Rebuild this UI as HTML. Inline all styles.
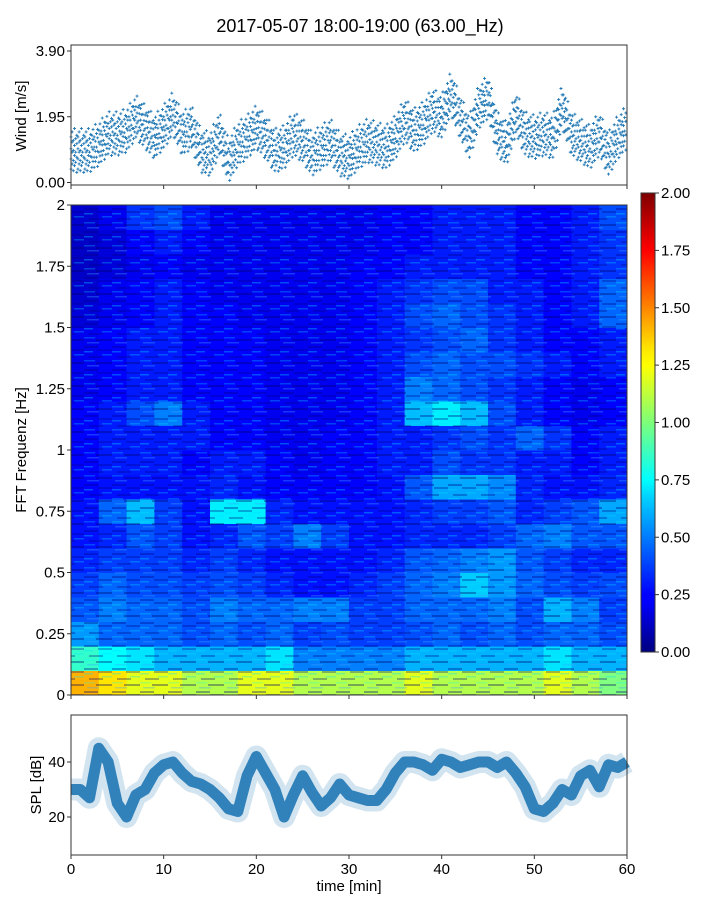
<!DOCTYPE html>
<html><head><meta charset="utf-8"><style>
body{margin:0;background:#fff;}
svg{display:block;font-family:"Liberation Sans",sans-serif;}
</style></head><body>
<svg id="fig" width="720" height="900" viewBox="0 0 720 900">
<defs>
<linearGradient id="jet" x1="0" y1="1" x2="0" y2="0">
<stop offset="0" stop-color="#00007f"/><stop offset="0.11" stop-color="#0000ff"/><stop offset="0.125" stop-color="#0000ff"/>
<stop offset="0.34" stop-color="#00d4ff"/><stop offset="0.375" stop-color="#00ffff"/><stop offset="0.5" stop-color="#7dff7a"/>
<stop offset="0.625" stop-color="#ffff00"/><stop offset="0.66" stop-color="#ffe600"/><stop offset="0.875" stop-color="#ff0000"/><stop offset="1" stop-color="#7f0000"/>
</linearGradient>
<pattern id="stripes" width="28" height="23" patternUnits="userSpaceOnUse">
<rect x="0" y="1" width="14" height="2" fill="#000080" opacity="0.35"/>
<rect x="14" y="4" width="14" height="2" fill="#000080" opacity="0.3"/>
<rect x="0" y="6" width="9" height="1.5" fill="#00e0ff" opacity="0.35"/>
<rect x="18" y="9" width="10" height="1.5" fill="#00e0ff" opacity="0.3"/>
<rect x="5" y="11" width="14" height="2" fill="#000080" opacity="0.3"/>
<rect x="0" y="15" width="11" height="1.5" fill="#00ffff" opacity="0.25"/>
<rect x="12" y="17" width="16" height="2" fill="#000060" opacity="0.35"/>
<rect x="3" y="20" width="12" height="1.5" fill="#40a0ff" opacity="0.35"/>
</pattern>
</defs>
<text x="360" y="32" text-anchor="middle" font-size="18">2017-05-07 18:00-19:00 (63.00_Hz)</text>
<g id="wind"></g>
<g id="spec"></g>
<g id="cbar"></g>
<g id="spl"></g>
</svg>
<script>
const NS="http://www.w3.org/2000/svg";
const minutes=[0,1,2,3,4,5,6,7,8,9,10,11,12,13,14,15,16,17,18,19,20,21,22,23,24,25,26,27,28,29,30,31,32,33,34,35,36,37,38,39,40,41,42,43,44,45,46,47,48,49,50,51,52,53,54,55,56,57,58,59,60];
const windValues=[0.9,0.9,0.9,1.1,1.4,1.4,1.5,1.9,1.6,1.3,1.6,2.0,1.4,1.6,0.9,0.8,1.4,0.6,1.1,1.3,1.6,1.3,0.9,1.0,1.4,1.2,0.8,1.0,1.2,0.8,0.7,1.0,1.2,1.1,1.0,1.3,1.8,1.5,1.7,2.1,1.9,2.6,1.9,1.3,2.2,2.5,1.4,1.1,2.0,1.4,1.3,1.4,1.3,2.2,1.4,1.2,1.0,1.4,0.8,1.3,1.6];
const splValues=[30,30,27,45,40,25,20,28,30,36,39,40,36,33,32,30,27,23,22,35,42,36,30,20,28,35,29,24,27,32,28,27,26,26,30,36,40,40,39,37,41,40,38,39,40,40,38,40,36,31,23,22,25,30,28,35,37,31,39,38,40];
const windTicks=[0,1.95,3.9];
const windTickLabels=["0.00","1.95","3.90"];
const freqTicks=[0,0.25,0.5,0.75,1,1.25,1.5,1.75,2];
const freqTickLabels=["0","0.25","0.5","0.75","1","1.25","1.5","1.75","2"];
const cbarTicks=[0,0.25,0.5,0.75,1,1.25,1.5,1.75,2];
const cbarTickLabels=["0.00","0.25","0.50","0.75","1.00","1.25","1.50","1.75","2.00"];
const splTicks=[20,40];
const timeTicks=[0,10,20,30,40,50,60];
// spectrogram rows: bottom (0-0.1 Hz) first, 20 time bins of 3 min
const specRows=[
[1.4,1.3,1.2,1.2,1.1,1.1,1.2,1.2,1.1,1.1,1.1,1.1,1.2,1.1,1.1,1.1,1.1,1.2,1.1,1.0],
[0.85,0.75,0.7,0.6,0.6,0.6,0.6,0.7,0.5,0.5,0.5,0.5,0.6,0.6,0.6,0.6,0.6,0.7,0.6,0.6],
[0.55,0.45,0.45,0.45,0.4,0.45,0.4,0.45,0.37,0.4,0.37,0.37,0.4,0.45,0.4,0.45,0.4,0.45,0.45,0.4],
[0.42,0.5,0.45,0.45,0.4,0.5,0.45,0.45,0.5,0.5,0.37,0.37,0.45,0.45,0.45,0.5,0.4,0.6,0.5,0.37],
[0.37,0.45,0.4,0.4,0.37,0.4,0.37,0.32,0.28,0.28,0.32,0.37,0.45,0.5,0.65,0.55,0.45,0.4,0.37,0.4],
[0.32,0.37,0.37,0.37,0.32,0.37,0.32,0.28,0.28,0.28,0.28,0.32,0.42,0.45,0.5,0.55,0.42,0.37,0.32,0.32],
[0.28,0.32,0.42,0.37,0.28,0.32,0.42,0.37,0.5,0.37,0.28,0.28,0.32,0.32,0.32,0.37,0.45,0.5,0.42,0.42],
[0.28,0.45,0.62,0.37,0.28,0.72,0.72,0.32,0.28,0.28,0.28,0.28,0.32,0.37,0.37,0.42,0.32,0.37,0.42,0.58],
[0.25,0.28,0.28,0.28,0.28,0.32,0.28,0.25,0.25,0.25,0.25,0.28,0.42,0.58,0.58,0.52,0.32,0.28,0.28,0.32],
[0.25,0.3,0.3,0.3,0.25,0.3,0.3,0.25,0.22,0.25,0.25,0.3,0.3,0.4,0.35,0.35,0.3,0.3,0.25,0.3],
[0.25,0.3,0.3,0.3,0.3,0.25,0.25,0.22,0.22,0.25,0.25,0.3,0.3,0.35,0.4,0.35,0.45,0.35,0.25,0.3],
[0.25,0.3,0.4,0.5,0.3,0.25,0.25,0.22,0.22,0.22,0.25,0.3,0.62,0.72,0.62,0.4,0.3,0.25,0.22,0.25],
[0.22,0.25,0.3,0.3,0.25,0.25,0.25,0.22,0.22,0.22,0.25,0.3,0.5,0.45,0.4,0.35,0.3,0.25,0.22,0.25],
[0.22,0.25,0.3,0.3,0.25,0.25,0.25,0.22,0.22,0.22,0.25,0.3,0.4,0.45,0.4,0.4,0.35,0.3,0.25,0.3],
[0.22,0.25,0.3,0.3,0.25,0.25,0.25,0.22,0.22,0.22,0.25,0.3,0.35,0.4,0.45,0.35,0.3,0.25,0.25,0.3],
[0.18,0.22,0.25,0.3,0.25,0.25,0.22,0.22,0.22,0.22,0.25,0.3,0.4,0.45,0.4,0.35,0.3,0.25,0.3,0.45],
[0.16,0.22,0.25,0.3,0.25,0.22,0.22,0.22,0.22,0.22,0.25,0.3,0.35,0.4,0.4,0.3,0.3,0.25,0.3,0.45],
[0.14,0.18,0.22,0.25,0.22,0.22,0.22,0.22,0.22,0.22,0.25,0.25,0.3,0.3,0.3,0.3,0.25,0.25,0.3,0.35],
[0.14,0.18,0.25,0.3,0.25,0.22,0.22,0.22,0.22,0.22,0.22,0.25,0.25,0.3,0.3,0.3,0.25,0.25,0.3,0.35],
[0.16,0.22,0.35,0.4,0.3,0.22,0.22,0.22,0.22,0.22,0.22,0.25,0.25,0.3,0.3,0.3,0.25,0.25,0.3,0.4]];

const X0=71,X1=627;
const xT=t=>X0+(t/60)*(X1-X0);
const yWind=v=>182.5-v*(131.5/3.9);
const yFreq=f=>695-f*245;
const yC=v=>652-v*229.5;
const ySpl=v=>817-(v-20)*2.75;

function mk(parent,tag,attrs,text){const e=document.createElementNS(NS,tag);for(const k in attrs)e.setAttribute(k,attrs[k]);if(text!==undefined)e.textContent=text;parent.appendChild(e);return e;}
function jet(v){let x=Math.max(0,Math.min(1,v/2));
 const r=Math.max(0,Math.min(1,1.5-Math.abs(4*x-3))),g=Math.max(0,Math.min(1,1.5-Math.abs(4*x-2))),b=Math.max(0,Math.min(1,1.5-Math.abs(4*x-1)));
 return `rgb(${Math.round(r*255)},${Math.round(g*255)},${Math.round(b*255)})`;}

// ---- wind panel
const W=document.getElementById('wind');
const offs=[[-0.5,-0.2,0.1,0.45],[-0.35,0,0.3,0.6],[-0.55,-0.25,0.05,0.35],[-0.4,-0.1,0.2,0.7],[-0.3,0.0,0.4],[-0.6,-0.15,0.25,0.5]];
for(let i=0;i<minutes.length-1;i++){
 for(let j=0;j<8;j++){
  const f=j/8,t=minutes[i]+f,v=windValues[i]*(1-f)+windValues[i+1]*f;
  const px=xT(t);
  for(const d of offs[(i*8+j)%6]){
   const py=yWind(Math.max(0.02,v+d));
   const p=mk(W,'path',{d:`M${px-1.5},${py}h3M${px},${py-1.5}v3`,stroke:'#1f77b4','stroke-width':'0.9'});
   
   
  }
 }
}
mk(W,'rect',{x:X0,y:45,width:X1-X0,height:140,fill:'none',stroke:'#333','stroke-width':1});
windTicks.forEach((t,i)=>{const y=yWind(t);mk(W,'line',{x1:X0-4,x2:X0,y1:y,y2:y,stroke:'#333'});
 const tx=mk(W,'text',{x:X0-6,y:y+5,'text-anchor':'end','font-size':15},windTickLabels[i]);
 });
timeTicks.forEach(t=>mk(W,'line',{x1:xT(t),x2:xT(t),y1:185,y2:189,stroke:'#333'}));
mk(W,'text',{transform:'translate(26,116) rotate(-90)','text-anchor':'middle','font-size':15,},'Wind [m/s]');

// ---- spectrogram
const S=document.getElementById('spec');
const nR=specRows.length,nC=specRows[0].length,cw=(X1-X0)/nC,fh=2/nR;
specRows.forEach((row,r)=>row.forEach((v,c)=>{
 const y=yFreq((r+1)*fh);
 const cell=mk(S,'rect',{x:X0+c*cw,y:y,width:cw+0.5,height:yFreq(r*fh)-y+0.5,fill:jet(v)});
 
 
}));
mk(S,'rect',{x:X0,y:205,width:X1-X0,height:490,fill:'url(#stripes)'});
mk(S,'rect',{x:X0,y:205,width:X1-X0,height:490,fill:'none',stroke:'#333'});
freqTicks.forEach((f,i)=>{const y=yFreq(f);mk(S,'line',{x1:X0-4,x2:X0,y1:y,y2:y,stroke:'#333'});
 const tx=mk(S,'text',{x:X0-6,y:y+5,'text-anchor':'end','font-size':15},freqTickLabels[i]);
 });
timeTicks.forEach(t=>mk(S,'line',{x1:xT(t),x2:xT(t),y1:695,y2:699,stroke:'#333'}));
mk(S,'text',{transform:'translate(26,450) rotate(-90)','text-anchor':'middle','font-size':15,},'FFT Frequenz [Hz]');

// ---- colorbar
const C=document.getElementById('cbar');
mk(C,'rect',{x:641,y:193,width:14,height:459,fill:'url(#jet)',stroke:'#333',});
cbarTicks.forEach((v,i)=>{const y=yC(v);mk(C,'line',{x1:655,x2:659,y1:y,y2:y,stroke:'#333'});
 const tx=mk(C,'text',{x:661,y:y+5,'font-size':15},cbarTickLabels[i]);
 });

// ---- SPL panel
const P=document.getElementById('spl');
const pts=minutes.map((m,i)=>`${xT(m).toFixed(1)},${ySpl(splValues[i]).toFixed(1)}`).join(' ');
const band=mk(P,'polyline',{points:pts,fill:'none',stroke:'#1f77b4','stroke-width':22,'stroke-opacity':0.2,'stroke-linejoin':'round'});

const line=mk(P,'polyline',{points:pts,fill:'none',stroke:'#1f77b4','stroke-width':11,'stroke-opacity':0.9,'stroke-linejoin':'round'});

mk(P,'rect',{x:X0,y:715,width:X1-X0,height:140,fill:'none',stroke:'#333'});
splTicks.forEach(v=>{const y=ySpl(v);mk(P,'line',{x1:X0-4,x2:X0,y1:y,y2:y,stroke:'#333'});
 const tx=mk(P,'text',{x:X0-6,y:y+5,'text-anchor':'end','font-size':15},String(v));
 });
timeTicks.forEach(t=>{mk(P,'line',{x1:xT(t),x2:xT(t),y1:855,y2:859,stroke:'#333'});
 const tx=mk(P,'text',{x:xT(t),y:874,'text-anchor':'middle','font-size':15},String(t));
 });
mk(P,'text',{transform:'translate(41,785) rotate(-90)','text-anchor':'middle','font-size':15,},'SPL [dB]');
mk(P,'text',{x:349,y:891,'text-anchor':'middle','font-size':15,},'time [min]');
</script>
</body></html>
